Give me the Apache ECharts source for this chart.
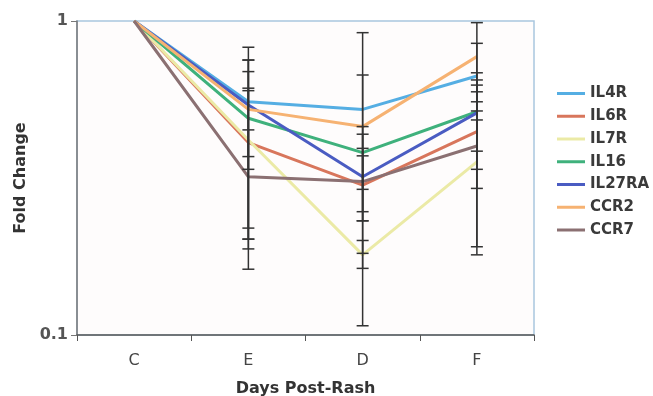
<!DOCTYPE html>
<html>
<head>
<meta charset="utf-8">
<script src="https://cdn.jsdelivr.net/npm/echarts@6/dist/echarts.min.js"></script>
<style>html,body{margin:0;padding:0;background:#fff}#c{width:653px;height:396px}</style>
</head>
<body>
<div id="c"></div>
<script>
var categories = ['C', 'E', 'D', 'F'];
var seriesNames = ['IL4R', 'IL6R', 'IL7R', 'IL16', 'IL27RA', 'CCR2', 'CCR7'];
var IL4R   = [1, 0.553, 0.523, 0.668];
var IL6R   = [1, 0.410, 0.300, 0.444];
var IL7R   = [1, 0.418, 0.180, 0.356];
var IL16   = [1, 0.490, 0.381, 0.514];
var IL27RA = [1, 0.540, 0.319, 0.510];
var CCR2   = [1, 0.523, 0.461, 0.770];
var CCR7   = [1, 0.319, 0.308, 0.400];
// error bar lows / highs (null at C)
var IL4R_low   = [null, 0.337, 0.107, 0.484];
var IL4R_high  = [null, 0.751, 0.918, 0.849];
var IL6R_low   = [null, 0.162, 0.231, 0.293];
var IL6R_high  = [null, 0.600, 0.372, 0.595];
var IL7R_low   = [null, 0.188, 0.163, 0.180];
var IL7R_high  = [null, 0.611, 0.200, 0.517];
var IL16_low   = [null, 0.202, 0.291, 0.337];
var IL16_high  = [null, 0.751, 0.461, 0.684];
var IL27RA_low = [null, 0.219, 0.182, 0.385];
var IL27RA_high= [null, 0.825, 0.436, 0.649];
var CCR2_low   = [null, 0.370, 0.247, 0.553];
var CCR2_high  = [null, 0.690, 0.673, 0.988];
var CCR7_low   = [null, 0.202, 0.231, 0.191];
var CCR7_high  = [null, 0.450, 0.393, 0.625];
var yTickLabels = ['0.1', '1'];

var values = [IL4R, IL6R, IL7R, IL16, IL27RA, CCR2, CCR7];
var lows = [IL4R_low, IL6R_low, IL7R_low, IL16_low, IL27RA_low, CCR2_low, CCR7_low];
var highs = [IL4R_high, IL6R_high, IL7R_high, IL16_high, IL27RA_high, CCR2_high, CCR7_high];
var colors = ['#55aee3', '#d8765c', '#ebeaa6', '#3fb17c', '#4a5cc2', '#f6b272', '#8b7072'];

var errData = [];
for (var s = 0; s < values.length; s++) {
  for (var i = 0; i < categories.length; i++) {
    if (lows[s][i] != null) errData.push([i, lows[s][i], highs[s][i]]);
  }
}

var series = seriesNames.map(function (n, k) {
  return {
    name: n, type: 'line', data: values[k], symbol: 'none',
    lineStyle: { width: 3, color: colors[k] }, itemStyle: { color: colors[k] }, z: 2
  };
});
series.push({
  type: 'custom', z: 5, silent: true,
  data: errData,
  renderItem: function (params, api) {
    var x = api.value(0);
    var lo = api.coord([x, api.value(1)]);
    var hi = api.coord([x, api.value(2)]);
    var hw = 6;
    var st = { stroke: '#333', lineWidth: 1.5 };
    return {
      type: 'group',
      children: [
        { type: 'line', shape: { x1: lo[0], y1: lo[1], x2: hi[0], y2: hi[1] }, style: st },
        { type: 'line', shape: { x1: lo[0] - hw, y1: lo[1], x2: lo[0] + hw, y2: lo[1] }, style: st },
        { type: 'line', shape: { x1: hi[0] - hw, y1: hi[1], x2: hi[0] + hw, y2: hi[1] }, style: st }
      ]
    };
  }
});

var chart = echarts.init(document.getElementById('c'), null, { renderer: 'canvas' });
chart.setOption({
  animation: false,
  backgroundColor: '#ffffff',
  grid: {
    left: 77, right: 119, top: 21, bottom: 61, show: true, containLabel: false,
    outerBoundsMode: 'none',
    borderColor: '#a9c6de', borderWidth: 1.5, backgroundColor: '#fefcfc'
  },
  legend: {
    data: seriesNames, orient: 'vertical', left: 552, top: 81,
    icon: 'rect', itemWidth: 28, itemHeight: 3, itemGap: 7.75,
    textStyle: { fontFamily: 'DejaVu Sans', fontWeight: 'bold', fontSize: 15, color: '#3a3a3a', lineHeight: 14 }
  },
  xAxis: {
    type: 'category', data: categories, boundaryGap: true,
    name: 'Days Post-Rash', nameLocation: 'middle', nameGap: 46,
    nameTextStyle: { fontFamily: 'DejaVu Sans', fontWeight: 'bold', fontSize: 16, color: '#333' },
    axisLine: { lineStyle: { color: '#555', width: 1.5 } },
    axisTick: { show: true, length: 6, lineStyle: { color: '#555' } },
    axisLabel: { fontFamily: 'DejaVu Sans', fontSize: 16, color: '#444', margin: 18 }
  },
  yAxis: {
    type: 'log', logBase: 10, min: 0.1, max: 1,
    name: 'Fold Change', nameLocation: 'middle', nameGap: 47,
    nameTextStyle: { fontFamily: 'DejaVu Sans', fontWeight: 'bold', fontSize: 16, color: '#333' },
    axisLine: { show: true, lineStyle: { color: '#777', width: 1.5 } },
    axisTick: { show: true, length: 6, lineStyle: { color: '#777' } },
    splitLine: { show: false },
    axisLabel: {
      fontFamily: 'DejaVu Sans', fontWeight: 'bold', fontSize: 16, color: '#555', margin: 9,
      formatter: function (v) {
        var s = String(+v.toPrecision(3));
        return yTickLabels.indexOf(s) >= 0 ? s : '';
      }
    }
  },
  series: series
});
</script>
</body>
</html>
